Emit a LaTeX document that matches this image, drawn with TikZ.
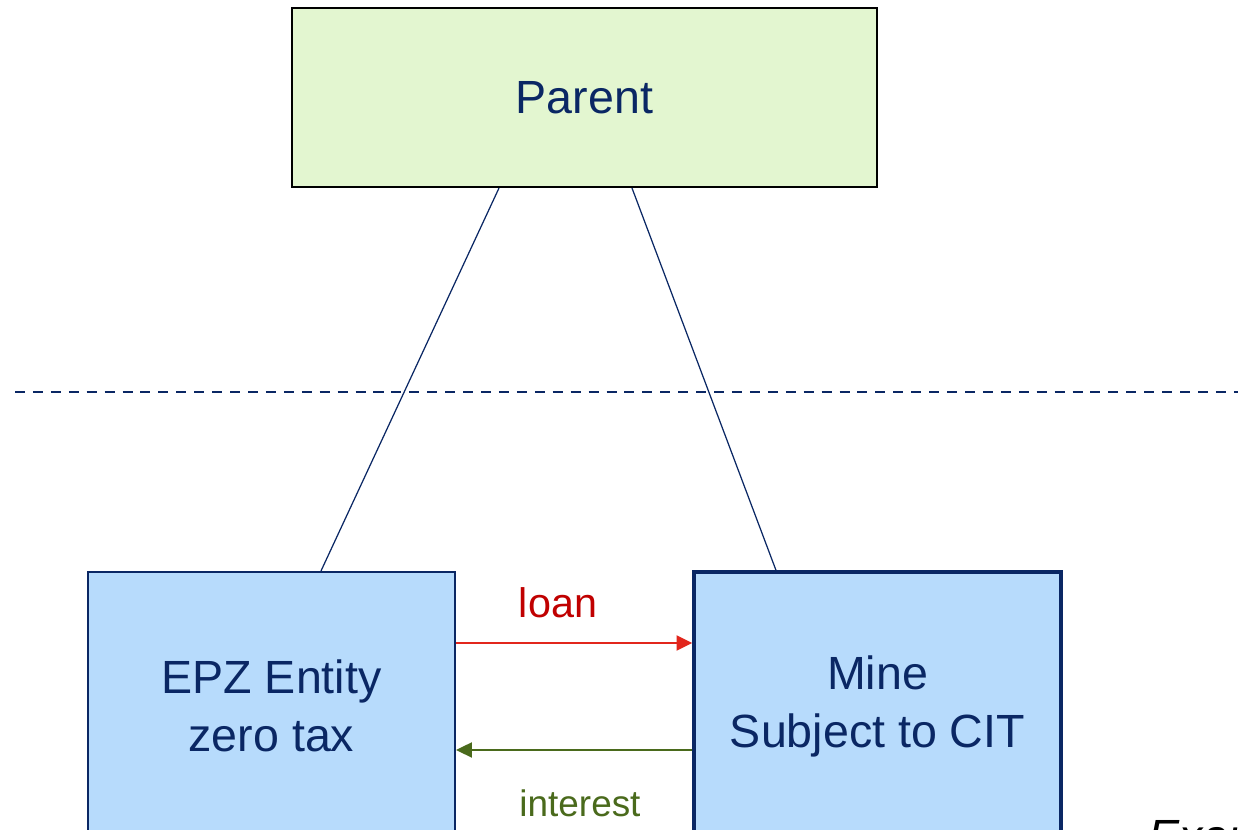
\documentclass[tikz,border=0pt]{standalone}
\usepackage{fontspec}
\setmainfont{Liberation Sans}
\usepackage{xcolor}
\usepackage{tikz}
\usetikzlibrary{arrows.meta}
\definecolor{navy}{HTML}{0A2764}
\definecolor{parentgreen}{HTML}{E3F6D0}
\definecolor{entityblue}{HTML}{B7DBFC}
\definecolor{loanred}{HTML}{E2261C}
\definecolor{loantext}{HTML}{C00000}
\definecolor{intgreen}{HTML}{4A6A1C}
\tikzstyle{parentbox} = [draw=black, line width=1.2pt, fill=parentgreen, text=navy, minimum width=11.7cm, minimum height=3.58cm, font=\fontsize{26.5}{33}\selectfont]
\tikzstyle{entitybox} = [draw=navy, line width=1.2pt, fill=entityblue, text=navy, minimum width=7.34cm, minimum height=5.36cm, align=center, font=\fontsize{26.5}{33}\selectfont]
\tikzstyle{owner} = [draw=navy, line width=0.7pt]
\tikzstyle{flow} = [line width=1.3pt, -{Triangle[length=9pt,width=8.5pt]}]

\begin{document}
\begin{tikzpicture}[>=Stealth]
% page frame
\clip (0,0) rectangle (24.76,16.6);
\fill[white] (0,0) rectangle (24.76,16.6);

% boxes
\node[parentbox] (parent) at (11.69,14.65) {Parent};
\node[entitybox] (epz) at (5.43,2.48) {EPZ Entity\\zero tax};
\node[entitybox, line width=1.9pt] (mine) at (17.55,2.48) {Mine\\Subject to CIT};

% border line (dashed)
\draw[navy, line width=1.5pt, dash pattern=on 5.7pt off 4.5pt] (0.3,8.76) -- (24.76,8.76);

% ownership lines
\draw[owner] ([xshift=-1.71cm]parent.south) -- ([xshift=0.99cm]epz.north);
\draw[owner] ([xshift=0.95cm]parent.south) -- ([xshift=-2.03cm]mine.north);

% loan and interest
\draw[flow, loanred] ([yshift=1.26cm]epz.east) -- ([yshift=1.26cm]mine.west);
\draw[flow, intgreen] ([yshift=-0.88cm]mine.west) -- ([yshift=-0.88cm]epz.east);
\node[anchor=base, text=loantext, font=\fontsize{23.5}{28}\selectfont] (loan) at (11.16,4.24) {loan};
\node[anchor=base, text=intgreen, font=\fontsize{21}{25}\selectfont] (interest) at (11.6,0.26) {interest};

% cut-off note
\node[anchor=base west, inner sep=0pt, font=\fontsize{26.5}{33}\selectfont\itshape] (note) at (22.96,-0.46) {Example};
\end{tikzpicture}
\end{document}
